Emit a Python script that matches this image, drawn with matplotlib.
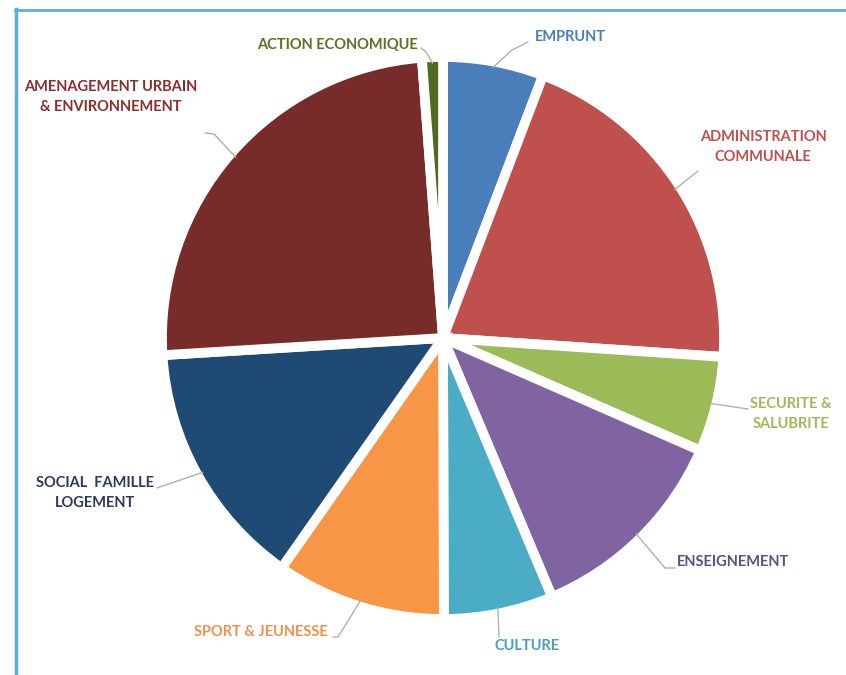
import numpy as np
from matplotlib import pyplot as plt
from matplotlib.lines import Line2D

# Budget split (share of total, %), clockwise from 12 o'clock
categories = [
    "EMPRUNT",
    "ADMINISTRATION\nCOMMUNALE",
    "SECURITE &\nSALUBRITE",
    "ENSEIGNEMENT",
    "CULTURE",
    "SPORT & JEUNESSE",
    "SOCIAL  FAMILLE\nLOGEMENT",
    "AMENAGEMENT URBAIN\n& ENVIRONNEMENT",
    "ACTION ECONOMIQUE",
]
shares = [5.8, 20.3, 5.5, 12.1, 6.3, 9.8, 14.3, 24.8, 1.2]

slice_colors = ["#4A7EBB", "#C0504D", "#9BBB59", "#8064A2", "#4BACC6",
                "#F79646", "#1F4A73", "#772C2A", "#4F6A22"]
label_colors = ["#4A7EBB", "#C0504D", "#A3B85A", "#5E4E8C", "#4A9CC0",
                "#F0914A", "#2B3A5C", "#8A2E2E", "#5A7322"]

W, H = 846, 675
CENTER = (443, H - 338)
RADIUS = 281

# label placement in pixels (top-left origin): text centre, leader end points
label_pos = [(570, 37), (763, 147), (791, 414), (733, 562), (527, 646),
             (261, 632), (95, 493), (111, 97), (337, 45)]
leader_end = [
    [(512, 50), (528, 42)],
    [(698, 171)],
    [(748, 409)],
    [(665, 568), (675, 568)],
    [(499, 637)],
    [(338, 637), (333, 637)],
    [(157, 488)],
    [(214, 134), (205, 133)],
    [(426, 52), (421, 48)],
]

plt.rcParams["font.family"] = ["Lato", "DejaVu Sans"]

fig = plt.figure(figsize=(W / 100, H / 100), dpi=100)
ax = fig.add_axes([0, 0, 1, 1])

wedges, _ = ax.pie(
    shares,
    colors=slice_colors,
    startangle=90,
    counterclock=False,
    center=CENTER,
    radius=RADIUS,
    wedgeprops={"edgecolor": "white", "linewidth": 7},
)

ax.set_xlim(0, W)
ax.set_ylim(0, H)
ax.set_aspect("equal")
ax.axis("off")

for w, text, color, pos, ends in zip(wedges, categories, label_colors, label_pos, leader_end):
    mid = np.deg2rad((w.theta1 + w.theta2) / 2)
    x0 = CENTER[0] + (RADIUS - 6) * np.cos(mid)
    y0 = CENTER[1] + (RADIUS - 6) * np.sin(mid)
    xs = [x0] + [p[0] for p in ends]
    ys = [y0] + [H - p[1] for p in ends]
    ax.plot(xs, ys, color="#B0B0B0", linewidth=1.0, solid_capstyle="round")
    ax.text(pos[0], H - pos[1], text, color=color, fontsize=10.5,
            fontweight="bold", ha="center", va="center", linespacing=1.5)

# blue frame (left and top edges only)
frame = "#5DADD8"
fig.add_artist(Line2D([16 / W, 16 / W], [0, 1 - 9 / H], color=frame, linewidth=2.5,
                      transform=fig.transFigure))
fig.add_artist(Line2D([15 / W, 1], [1 - 10 / H, 1 - 10 / H], color=frame, linewidth=2,
                      transform=fig.transFigure))

fig.savefig("out.png", dpi=100)
